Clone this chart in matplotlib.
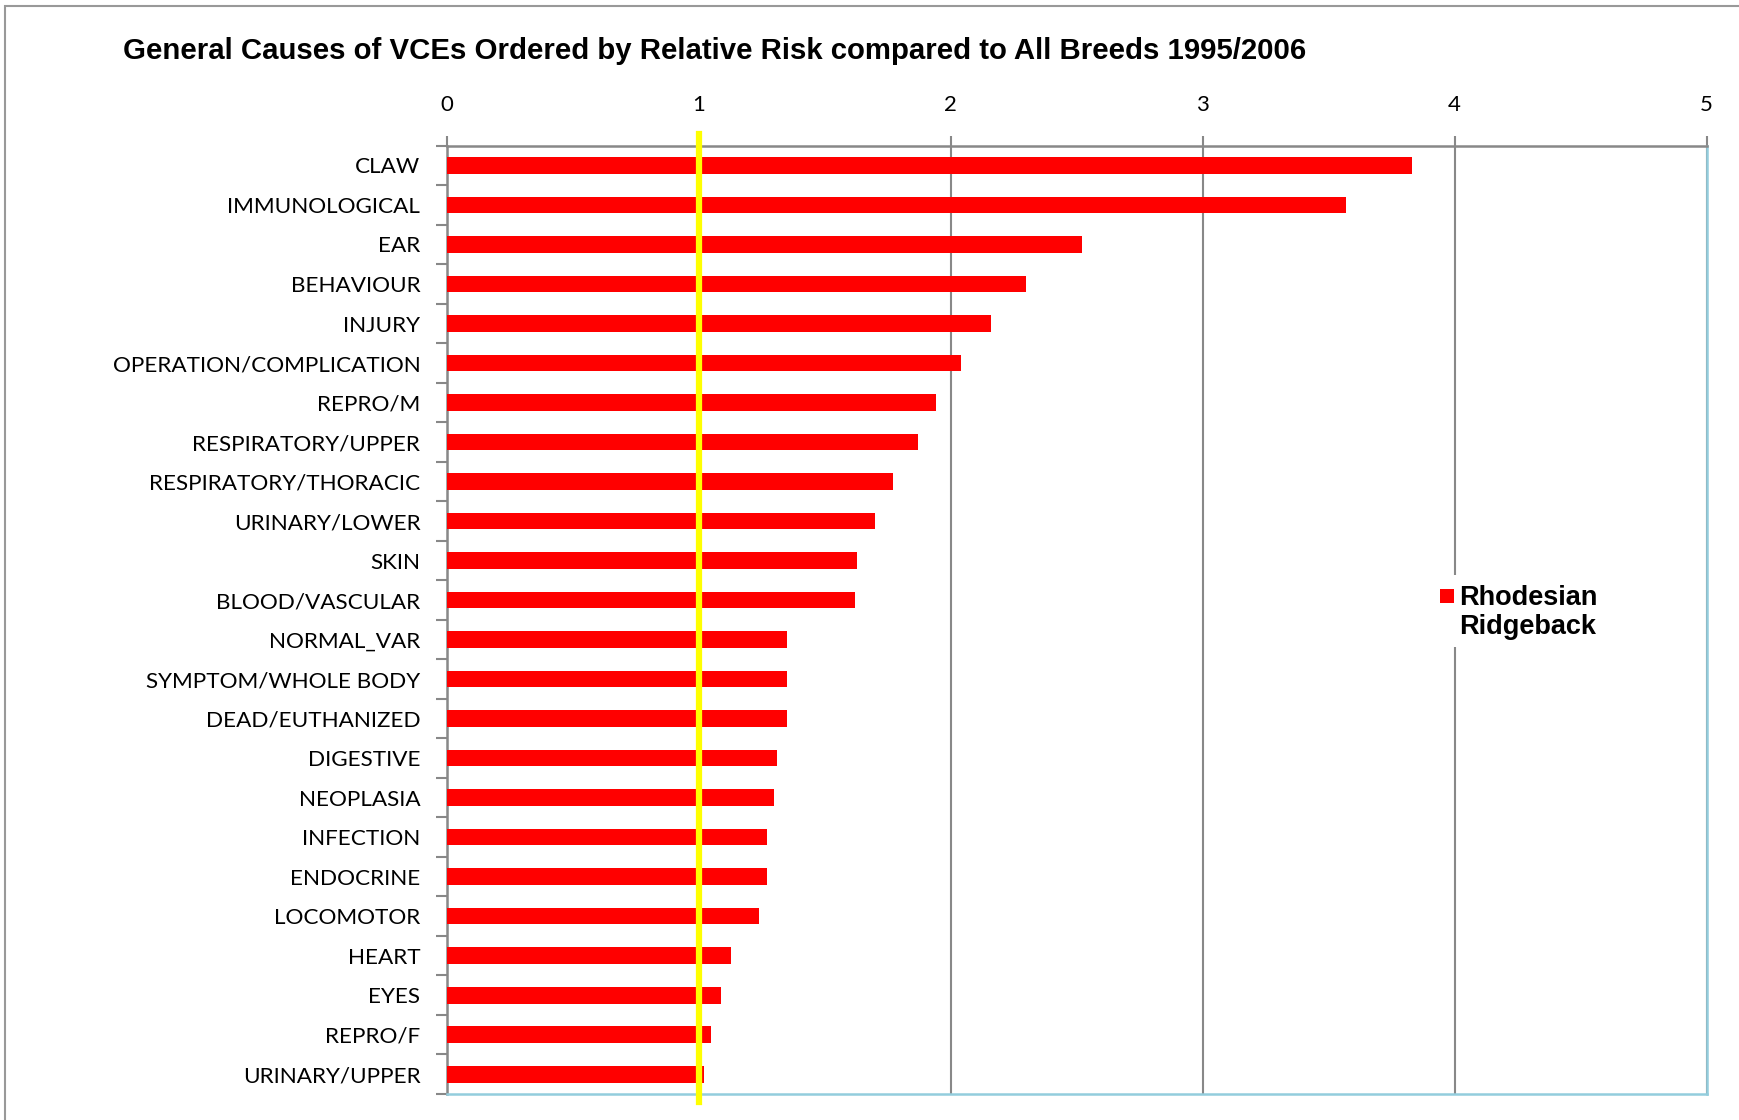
import matplotlib.pyplot as plt
from matplotlib.patches import Rectangle
from matplotlib.lines import Line2D

causes = ['CLAW', 'IMMUNOLOGICAL', 'EAR', 'BEHAVIOUR', 'INJURY',
          'OPERATION/COMPLICATION', 'REPRO/M', 'RESPIRATORY/UPPER',
          'RESPIRATORY/THORACIC', 'URINARY/LOWER', 'SKIN', 'BLOOD/VASCULAR',
          'NORMAL_VAR', 'SYMPTOM/WHOLE BODY', 'DEAD/EUTHANIZED', 'DIGESTIVE',
          'NEOPLASIA', 'INFECTION', 'ENDOCRINE', 'LOCOMOTOR', 'HEART', 'EYES',
          'REPRO/F', 'URINARY/UPPER']
relative_risk = [3.83, 3.57, 2.52, 2.30, 2.16, 2.04, 1.94, 1.87, 1.77, 1.70,
                 1.63, 1.62, 1.35, 1.35, 1.35, 1.31, 1.30, 1.27, 1.27, 1.24,
                 1.13, 1.09, 1.05, 1.02]
x_ticks = [0, 1, 2, 3, 4, 5]
baseline = 1
series_name = 'Rhodesian\nRidgeback'

W, H = 1739, 1120
fig = plt.figure(figsize=(W / 100, H / 100), dpi=100)
ax = fig.add_axes([446.7 / W, 1 - 1094 / H, 1260 / W, (1094 - 145.7) / H])

n = len(causes)
y_pos = list(range(n))
ax.barh(y_pos, relative_risk, height=0.42, color='#FF0000', zorder=3)
ax.set_ylim(n - 0.5, -0.5)
ax.set_xlim(0, 5)

# grid and axes styling (Excel look)
ax.set_xticks(x_ticks)
ax.set_xticklabels([str(t) for t in x_ticks], fontfamily='Lato', fontsize=16)
ax.xaxis.tick_top()
ax.tick_params(axis='x', direction='out', length=7, width=1.5, color='#888888', pad=15)
ax.grid(axis='x', color='#888888', linewidth=1.5, zorder=1)

ax.set_yticks(y_pos)
ax.set_yticklabels(causes, fontfamily='Lato', fontsize=16.2)
ax.set_yticks([i - 0.5 for i in range(n + 1)], minor=True)
ax.tick_params(axis='y', which='major', length=0, pad=19)
ax.tick_params(axis='y', which='minor', direction='out', length=8, width=1.5, color='#888888')

for side in ['left', 'top']:
    ax.spines[side].set_color('#888888')
    ax.spines[side].set_linewidth(1.8)
for side in ['right', 'bottom']:
    ax.spines[side].set_color('#93CDDD')
    ax.spines[side].set_linewidth(1.8)

# yellow reference line at relative risk = 1
ax.add_line(Line2D([baseline, baseline], [n - 0.5 + 0.2, -0.5 - 0.3], color='#FFFF00',
                   linewidth=4.5, zorder=5, clip_on=False))

fig.text(123 / W, 1 - 51 / H,
         'General Causes of VCEs Ordered by Relative Risk compared to All Breeds 1995/2006',
         fontfamily='Liberation Sans', fontweight='bold', fontsize=21.2, va='center', ha='left')

# legend: white box over the gridline, red square, two-line label
fig.patches.append(Rectangle((1432 / W, 1 - 647 / H), 170 / W, 72 / H,
                             transform=fig.transFigure, facecolor='white',
                             edgecolor='none', zorder=2))
fig.patches.append(Rectangle((1440 / W, 1 - 603 / H), 14 / W, 14 / H,
                             transform=fig.transFigure, facecolor='#FF0000',
                             edgecolor='none', zorder=3))
fig.text(1459 / W, 1 - 585 / H, series_name, fontfamily='Liberation Sans',
         fontweight='bold', fontsize=19.5, va='top', ha='left', linespacing=1.17,
         zorder=4)

# outer frame of chart area
fig.patches.append(Rectangle((5 / W, -0.01), 1.2, 1 - 6 / H + 0.01, transform=fig.transFigure,
                             fill=False, edgecolor='#999999', linewidth=1.5))

fig.savefig('out.png', dpi=100)
